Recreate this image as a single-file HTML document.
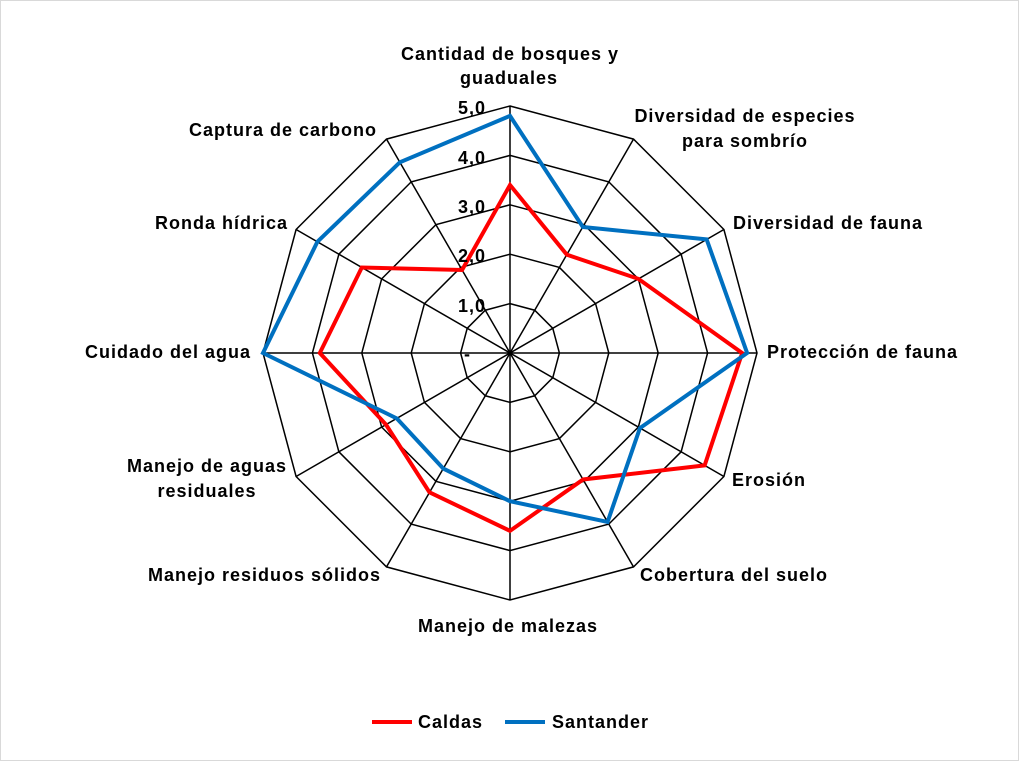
<!DOCTYPE html>
<html><head><meta charset="utf-8"><style>
html,body{margin:0;padding:0;background:#fff}
svg{display:block}
text{font-family:"Liberation Sans",Arial,sans-serif;font-weight:bold;font-size:18px;letter-spacing:1px;fill:#000}
</style></head><body>
<svg width="1019" height="761" viewBox="0 0 1019 761">
<rect x="0.5" y="0.5" width="1018" height="760" fill="#fff" stroke="#d9d9d9"/>
<defs>
<polygon id="ring" points="0,-1 0.5,-0.866 0.866,-0.5 1,0 0.866,0.5 0.5,0.866 0,1 -0.5,0.866 -0.866,0.5 -1,0 -0.866,-0.5 -0.5,-0.866"/>
</defs>
<g transform="translate(510,353)">
<g fill="none" stroke="#000">
<use href="#ring" transform="scale(49.4)" style="stroke-width:0.0304"/>
<use href="#ring" transform="scale(98.8)" style="stroke-width:0.0152"/>
<use href="#ring" transform="scale(148.2)" style="stroke-width:0.0101"/>
<use href="#ring" transform="scale(197.6)" style="stroke-width:0.0076"/>
<use href="#ring" transform="scale(247)" style="stroke-width:0.0061"/>
</g>
<g stroke="#000" stroke-width="1.5">
<line x1="0" y1="-247" x2="0" y2="247"/>
<line x1="-247" y1="0" x2="247" y2="0"/>
<line x1="123.5" y1="-213.9" x2="-123.5" y2="213.9"/>
<line x1="-123.5" y1="-213.9" x2="123.5" y2="213.9"/>
<line x1="213.9" y1="-123.5" x2="-213.9" y2="123.5"/>
<line x1="-213.9" y1="-123.5" x2="213.9" y2="123.5"/>
</g>
<g transform="scale(49.4)" fill="none">
<polygon stroke="#ff0000" stroke-width="0.081" points="0,-3.4 1.15,-1.99 2.6,-1.5 4.7,0 3.94,2.275 1.48,2.56 0,3.6 -1.63,2.82 -2.51,1.45 -3.85,0 -3,-1.73 -0.97,-1.68"/>
<polygon stroke="#0070c0" stroke-width="0.081" points="0,-4.8 1.475,-2.55 3.98,-2.3 4.8,0 2.63,1.52 1.975,3.42 0,3 -1.35,2.34 -2.29,1.325 -5,0 -3.9,-2.25 -2.23,-3.86"/>
</g>
</g>
<g text-anchor="end">
<text x="486" y="114">5,0</text>
<text x="486" y="164">4,0</text>
<text x="486" y="213">3,0</text>
<text x="486" y="262">2,0</text>
<text x="486" y="312">1,0</text>
<text x="471" y="360">-</text>
</g>
<g text-anchor="middle">
<text x="510" y="60">Cantidad de bosques y</text>
<text x="509" y="84">guaduales</text>
<text x="745" y="122">Diversidad de especies</text>
<text x="745" y="147">para sombrío</text>
<text x="283" y="136">Captura de carbono</text>
<text x="508" y="632">Manejo de malezas</text>
<text x="207" y="472">Manejo de aguas</text>
<text x="207" y="497">residuales</text>
</g>
<text x="733" y="229">Diversidad de fauna</text>
<text x="767" y="358">Protección de fauna</text>
<text x="732" y="486">Erosión</text>
<text x="640" y="581">Cobertura del suelo</text>
<g text-anchor="end">
<text x="288" y="229">Ronda hídrica</text>
<text x="251" y="358">Cuidado del agua</text>
<text x="381" y="581">Manejo residuos sólidos</text>
</g>
<line x1="372" y1="722" x2="412" y2="722" stroke="#ff0000" stroke-width="4"/>
<text x="418" y="728">Caldas</text>
<line x1="505" y1="722" x2="545" y2="722" stroke="#0070c0" stroke-width="4"/>
<text x="552" y="728">Santander</text>
</svg>
</body></html>
